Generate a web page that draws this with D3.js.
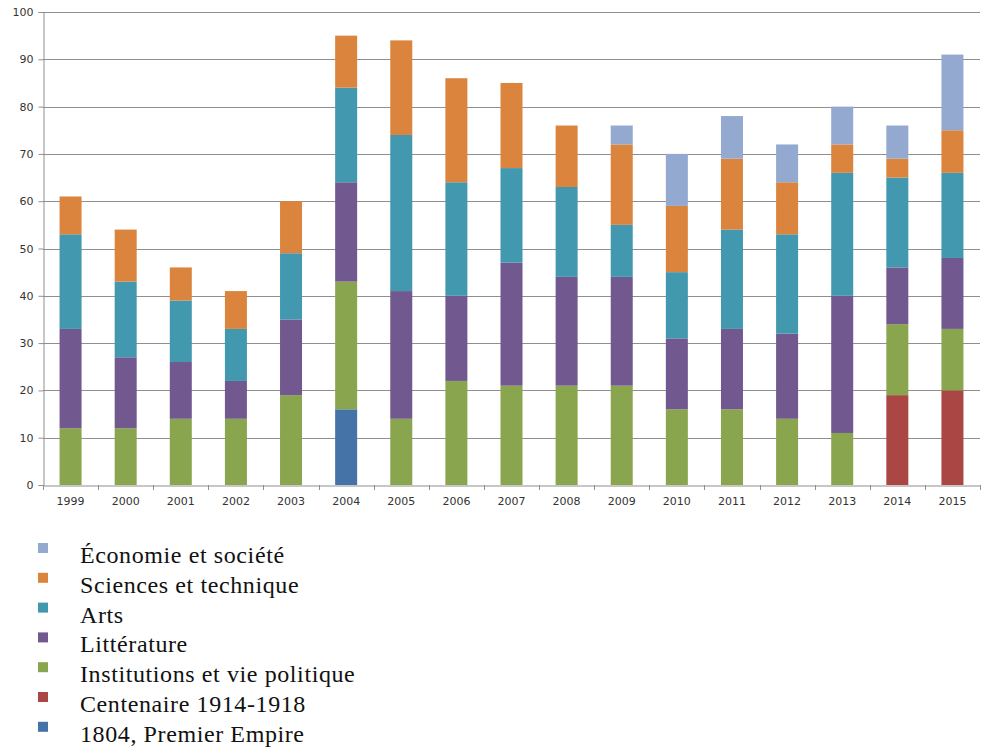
<!DOCTYPE html>
<html><head><meta charset="utf-8">
<script src="https://cdn.jsdelivr.net/npm/d3@7"></script>
<style>body{margin:0;background:#fff}</style>
</head><body>
<svg id="c" width="987" height="749"></svg>
<script>
const years = ["1999","2000","2001","2002","2003","2004","2005","2006","2007","2008","2009","2010","2011","2012","2013","2014","2015"];
const seriesNames = ["1804, Premier Empire","Centenaire 1914-1918","Institutions et vie politique","Littérature","Arts","Sciences et technique","Économie et société"];
const premierEmpire = [0,0,0,0,0,16,0,0,0,0,0,0,0,0,0,0,0];
const centenaire    = [0,0,0,0,0,0,0,0,0,0,0,0,0,0,0,19,20];
const institutions  = [12,12,14,14,19,27,14,22,21,21,21,16,16,14,11,15,13];
const litterature   = [21,15,12,8,16,21,27,18,26,23,23,15,17,18,29,12,15];
const arts          = [20,16,13,11,14,20,33,24,20,19,11,14,21,21,26,19,18];
const sciences      = [8,11,7,8,11,11,20,22,18,13,17,14,15,11,6,4,9];
const economie      = [0,0,0,0,0,0,0,0,0,0,4,11,9,8,8,7,16];
const yTicks = [0,10,20,30,40,50,60,70,80,90,100];
const colors = ["#4572A7","#AA4643","#89A54E","#71588F","#4198AF","#DB843D","#93A9CF"];

const seriesValues = [premierEmpire, centenaire, institutions, litterature, arts, sciences, economie];
const rows = years.map((yr,i)=>{const r={year:yr}; seriesNames.forEach((n,k)=>r[n]=seriesValues[k][i]); return r;});
const stacked = d3.stack().keys(seriesNames)(rows);

const svg = d3.select("#c");
const pLeft=43, pRight=980, pTop=12, pBottom=485;
const y = d3.scaleLinear().domain([0,100]).range([pBottom,pTop]);
const xb = d3.scaleBand().domain(years).range([pLeft,pRight]);

// gridlines
svg.append("g").selectAll("line").data(yTicks.filter(t=>t>0)).join("line")
  .attr("x1",pLeft).attr("x2",pRight).attr("y1",d=>Math.round(y(d))+0.5).attr("y2",d=>Math.round(y(d))+0.5)
  .attr("stroke","#8f8f8f").attr("stroke-width",1);

// bars
svg.append("g").selectAll("g").data(stacked).join("g")
  .attr("fill",(d,i)=>colors[i])
  .selectAll("rect").data(d=>d).join("rect")
  .attr("x",d=>xb(d.data.year)+xb.bandwidth()/2-11)
  .attr("width",22)
  .attr("y",d=>y(d[1]))
  .attr("height",d=>y(d[0])-y(d[1]));

// y axis
const yAxis = svg.append("g").attr("transform",`translate(${pLeft+0.5},0)`)
  .call(d3.axisLeft(y).tickValues(yTicks).tickSize(5).tickPadding(5));
yAxis.select(".domain").attr("stroke","#8f8f8f");
yAxis.selectAll(".tick line").attr("stroke","#8f8f8f");
yAxis.selectAll("text").attr("font-family","DejaVu Sans").attr("font-size","11px").attr("fill","#333");

// x axis
const xAxis = svg.append("g").attr("transform",`translate(0,${pBottom+0.5})`)
  .call(d3.axisBottom(xb).tickSize(0).tickPadding(12));
xAxis.select(".domain").attr("stroke","#8f8f8f");
xAxis.selectAll("text").attr("font-family","DejaVu Sans").attr("font-size","11px").attr("fill","#333");
svg.append("g").selectAll("line").data(d3.range(years.length+1)).join("line")
  .attr("x1",i=>Math.round(pLeft+i*xb.bandwidth())+0.5).attr("x2",i=>Math.round(pLeft+i*xb.bandwidth())+0.5)
  .attr("y1",pBottom).attr("y2",pBottom+5).attr("stroke","#8f8f8f");

// legend (top to bottom: reverse order)
const legendItems = seriesNames.map((n,i)=>({n, c:colors[i]})).reverse();
const lg = svg.append("g").selectAll("g").data(legendItems).join("g")
  .attr("transform",(d,i)=>`translate(0,${563+i*29.8})`);
lg.append("rect").attr("x",38).attr("y",-20).attr("width",10).attr("height",10).attr("fill",d=>d.c);
lg.append("text").attr("x",80).attr("y",0).attr("font-family","Liberation Serif").attr("font-size","24px")
  .attr("letter-spacing","0.6px").attr("fill","#111").text(d=>d.n);
</script>
</body></html>
